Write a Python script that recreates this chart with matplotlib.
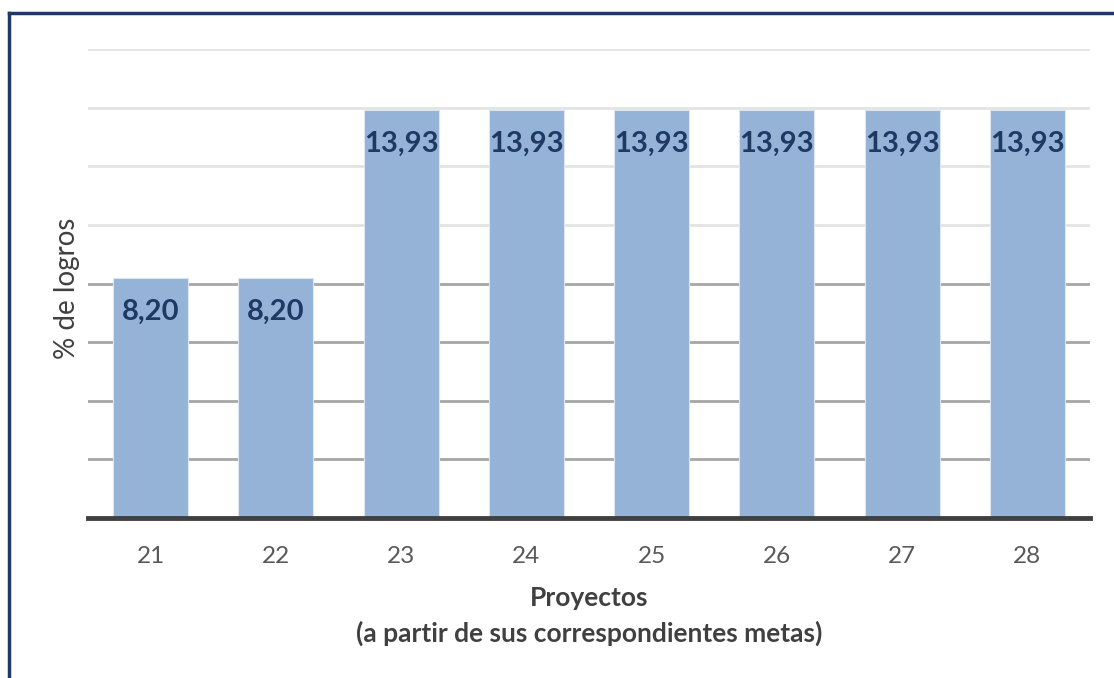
import matplotlib
matplotlib.use("Agg")
import matplotlib.pyplot as plt
from matplotlib.lines import Line2D

categories = ["21", "22", "23", "24", "25", "26", "27", "28"]
values = [8.20, 8.20, 13.93, 13.93, 13.93, 13.93, 13.93, 13.93]
value_labels = ["8,20", "8,20", "13,93", "13,93", "13,93", "13,93", "13,93", "13,93"]
grid_levels = [2, 4, 6, 8, 10, 12, 14, 16]

plt.rcParams['font.family'] = ['Lato', 'DejaVu Sans']

fig = plt.figure(figsize=(11.14, 6.78), dpi=100)
ax = fig.add_axes([88/1114, 1 - 518/678, 1002/1114, (518-49)/678])

x = list(range(len(categories)))
ax.bar(x, values, width=0.6, color="#95b3d7", edgecolor="#dce6f1", linewidth=0.8, zorder=3)

for g in grid_levels:
    col = "#a6a6a6" if g <= 8 else "#e3e3e3"
    ax.axhline(g, color=col, linewidth=2, zorder=1)

for xi, v, lab in zip(x, values, value_labels):
    ax.annotate(lab, (xi, v), xytext=(0, -34), textcoords="offset pixels",
                ha="center", va="center", fontsize=21, fontweight="bold",
                color="#1f3864", zorder=4)

ax.set_xlim(-0.5, len(categories) - 0.5)
ax.set_ylim(0, 16)
ax.set_xticks(x)
ax.set_xticklabels(categories, fontsize=17.5, color="#595959")
ax.set_yticks([])
ax.tick_params(axis="x", length=0, pad=20)
for s in ["top", "right", "left"]:
    ax.spines[s].set_visible(False)
ax.spines["bottom"].set_color("#404040")
ax.spines["bottom"].set_linewidth(3.5)
ax.spines["bottom"].set_zorder(5)

fig.text(589/1114, 1 - 598/678, "Proyectos", ha="center", va="center",
         fontsize=19, fontweight="bold", color="#404040")
fig.text(589/1114, 1 - 633/678, "(a partir de sus correspondientes metas)", ha="center",
         va="center", fontsize=19, fontweight="bold", color="#404040")
fig.text(67/1114, 1 - 288/678, "% de logros", ha="center", va="center", rotation=90,
         fontsize=20, color="#404040")

# figure frame (top and left edges)
fig.add_artist(Line2D([9/1114, 1], [1 - 13/678, 1 - 13/678], transform=fig.transFigure,
                      color="#1f3864", linewidth=2.5))
fig.add_artist(Line2D([9/1114, 9/1114], [0, 1 - 13/678], transform=fig.transFigure,
                      color="#1f3864", linewidth=2.5))

fig.savefig("out.png", dpi=100, facecolor="white")
